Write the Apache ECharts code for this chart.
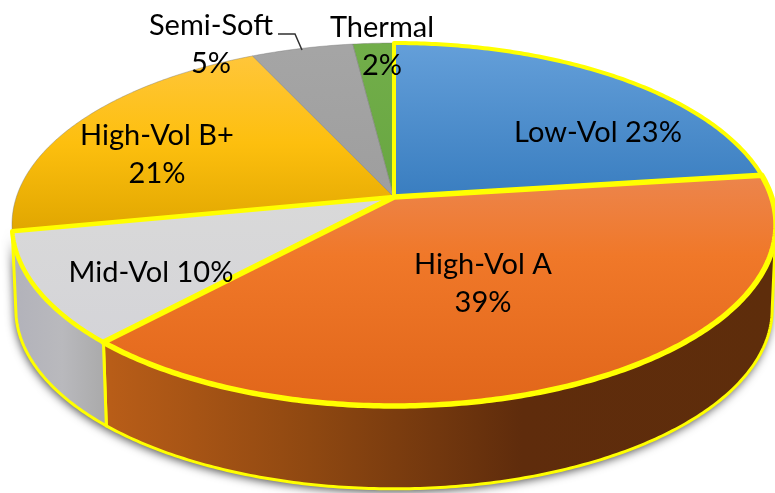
<!DOCTYPE html>
<html><head><meta charset="utf-8">
<style>html,body{margin:0;padding:0;background:#fff}#c{width:775px;height:493px}</style>
<script src="https://cdn.jsdelivr.net/npm/echarts@6/dist/echarts.min.js"></script>
</head><body><div id="c"></div>
<script>
const categories = ['Low-Vol','High-Vol A','Mid-Vol','High-Vol B+','Semi-Soft','Thermal'];
const values = [23,39,10,21,5,2];
const labelTexts = ['Low-Vol 23%','High-Vol A\n39%','Mid-Vol 10%','High-Vol B+\n21%','Semi-Soft\n5%','Thermal\n2%'];

// drawing style, separate from the data
const labelPos = [[598,133],[483,284],[151,273],[157,155],[211,45],[382,47]];
const topStops = [
  [[0,'#649fd9'],[1,'#3b7fc1']],
  [[0,'#ec854d'],[0.35,'#f07829'],[1,'#e1661a']],
  [[0,'#d9d9d9'],[1,'#d4d4d8']],
  [[0,'#ffc63a'],[0.5,'#fdbf0e'],[1,'#e0a600']],
  [[0,'#a5a5a5'],[1,'#9e9e9e']],
  [[0,'#72ae4a'],[1,'#68a641']]
];
const topRange = [[44,190],[175,405],[200,345],[55,232],[50,197],[44,197]];
const outlined = [true,true,true,false,false,false];
const rimWidth = [4,5.5,4.5,0.6,0.6,0.6];
const YELLOW = '#ffff00';
const CX = 394, CY = 197, A = 377.6, B = 177.3, K = 0.1515, DEPTH = 85, BASE = 0.99;
const total = values.reduce((a,b)=>a+b,0);
const starts = values.reduce((acc,v)=>{acc.push(acc[acc.length-1]+v);return acc;},[0]);

function rim(deg, depth){
  const t = deg*Math.PI/180, d = 1+K*Math.cos(t);
  const s = depth ? BASE : 1;
  return [CX + s*A*Math.sin(t)/d, CY - s*B*Math.cos(t)/d + (depth||0)];
}
function arc(a0,a1,depth){
  const n = Math.max(2,Math.ceil(Math.abs(a1-a0)*1.5)), p=[];
  for(let i=0;i<=n;i++) p.push(rim(a0+(a1-a0)*i/n,depth));
  return p;
}
const VIS0 = Math.acos(-K)*180/Math.PI, VIS1 = 360-VIS0;
const grad = (x0,y0,x1,y1,st)=>new echarts.graphic.LinearGradient(x0,y0,x1,y1,st.map(s=>({offset:s[0],color:s[1]})),true);
const wallFill = [
  null,
  grad(110,0,775,0,[[0,'#b85d18'],[0.3,'#8f4811'],[0.62,'#5f2c0c'],[1,'#5e2d0b']]),
  grad(14,0,110,0,[[0,'#b2b2ba'],[0.5,'#b9b9bd'],[1,'#a8a8a8']]),
  '#b2b2ba',null,null
];

function renderItem(params, api){
  const i = params.dataIndex;
  const a0 = starts[i]/total*360, a1 = (starts[i]+api.value(0))/total*360;
  const children = [];
  if(i===0){
    children.push({type:'polygon',z2:0,
      shape:{points:arc(VIS0,VIS1,0).concat(arc(VIS1,VIS0,DEPTH))},
      style:{fill:'#777',shadowBlur:10,shadowColor:'rgba(0,0,0,0.7)',shadowOffsetX:-1,shadowOffsetY:3}});
  }
  const w0 = Math.max(a0,VIS0), w1 = Math.min(a1,VIS1);
  if(w1>w0 && wallFill[i]){
    children.push({type:'polygon',z2:1,
      shape:{points:arc(w0,w1,0).concat(arc(w1,w0,DEPTH))},
      style:{fill:wallFill[i],stroke:YELLOW,lineWidth:i===3?0:3,lineJoin:'round'}});
  }
  const pts = [[CX,CY]].concat(arc(a0,a1,0));
  children.push({type:'polygon',z2:outlined[i]?3+(i===1?1:0):2,
    shape:{points:pts},
    style:{fill:grad(0,topRange[i][0],0,topRange[i][1],topStops[i]),
      stroke:outlined[i]?YELLOW:'rgba(120,120,120,0.7)',
      lineWidth:rimWidth[i],lineJoin:'round'}});
  children.push({type:'text',z2:10,
    style:{x:labelPos[i][0],y:labelPos[i][1],text:labelTexts[i],align:'center',verticalAlign:'middle',
      fill:'#000',font:'29px Lato',lineHeight:38}});
  return {type:'group',children};
}
const chart = echarts.init(document.getElementById('c'),null,{renderer:'canvas'});
chart.setOption({
  animation:false,
  backgroundColor:'#ffffff',
  graphic:[{type:'polyline',z:5,shape:{points:[[278,34],[295,34],[302,50]]},style:{stroke:'#303030',lineWidth:1.5,fill:null}}],
  series:[{type:'custom',coordinateSystem:'none',renderItem,
    data:categories.map((c,i)=>({name:c,value:[values[i]]}))}]
});
</script></body></html>
